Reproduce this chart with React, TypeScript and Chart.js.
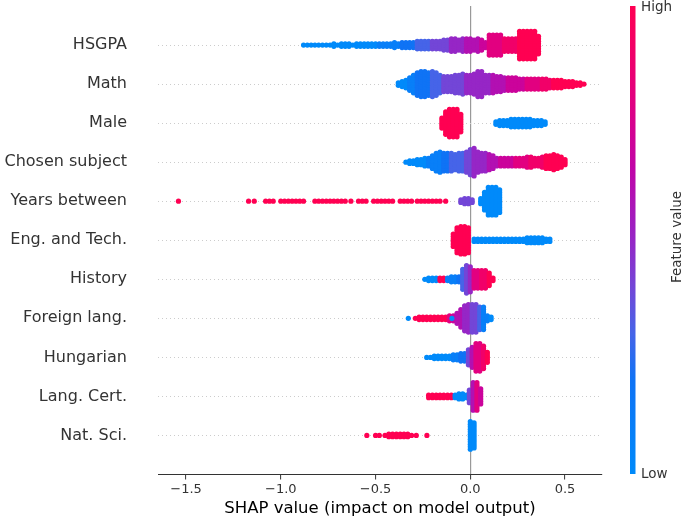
import React, { useEffect, useRef } from 'react';
import { Chart, registerables } from 'chart.js';

Chart.register(...registerables);

// ---------- data ----------
const features = [
  'HSGPA',
  'Math',
  'Male',
  'Chosen subject',
  'Years between',
  'Eng. and Tech.',
  'History',
  'Foreign lang.',
  'Hungarian',
  'Lang. Cert.',
  'Nat. Sci.',
];
const xTicks = [-1.5, -1.0, -0.5, 0.0, 0.5];
const xTitle = 'SHAP value (impact on model output)';
const cbHigh = 'High';
const cbLow = 'Low';
const cbTitle = 'Feature value';

// bin width of the swarm histogram (SHAP units)
const BIN = 0.02;

// segment: [SHAP value of first bin, dots stacked per bin, feature value 0..10 (per bin or single)]
type Seg = [number, number[], number | number[]];

const hsgpa: Seg[] = [
  [-0.88,
    [1, 1, 1, 1, 1, 1, 1, 1, 2, 1, 2, 2, 2, 1, 2, 2, 2, 2, 2, 2, 2, 2, 2, 2, 3, 2, 3, 3, 3, 3, 4, 4, 4, 4, 4, 4, 4, 5, 5, 6, 6, 5, 6, 6, 6, 5, 6, 5, 3, 9, 9, 9, 9, 6, 6, 6, 6, 12, 12, 12, 12, 12, 8],
    [0, 0, 0, 0, 0, 0, 0, 0, 0, 0, 0, 0, 0, 0, 0, 0, 0, 0, 0, 0, 1, 1, 1, 1, 1, 1, 2, 2, 2, 2, 3, 3, 3, 3, 4, 4, 4, 4, 4, 5, 5, 5, 5, 6, 6, 6, 6, 7, 7, 8, 8, 8, 8, 9, 9, 9, 9, 10, 10, 10, 10, 10, 10]],
];
const math: Seg[] = [
  [-0.38,
    [2, 3, 4, 6, 8, 10, 11, 11, 10, 11, 10, 8, 7, 7, 7, 8, 8, 9, 8, 8, 9, 11, 11, 8, 8, 8, 7, 7, 6, 6, 6, 6, 5, 5, 5, 5, 5, 5, 5, 5, 4, 4, 4, 4, 3, 3, 3, 2, 2, 1],
    [0, 0, 0, 1, 1, 2, 2, 2, 2, 3, 3, 3, 4, 4, 4, 4, 4, 4, 5, 5, 5, 5, 5, 5, 5, 6, 6, 6, 6, 7, 7, 7, 7, 7, 8, 8, 8, 8, 9, 9, 9, 10, 10, 10, 10, 10, 10, 10, 10, 10]],
];
const male: Seg[] = [
  [-0.15, [5, 10, 12, 12, 12, 8], 10],
  [0.135, [2, 3, 3, 3, 4, 4, 4, 4, 4, 4, 3, 3, 3, 2], 0],
];
const chosen: Seg[] = [
  [-0.34,
    [1, 2, 2, 3, 3, 4, 4, 6, 8, 9, 8, 8, 8, 7, 8, 8, 9, 11, 12, 9, 8, 8, 7, 6, 4, 4, 4, 4, 4, 4, 4, 4, 5, 5, 4, 4, 5, 6, 6, 7, 6, 5, 3],
    [0, 0, 0, 0, 0, 0, 1, 1, 1, 1, 2, 2, 3, 3, 3, 3, 4, 4, 5, 5, 5, 5, 6, 6, 6, 7, 7, 7, 7, 8, 8, 8, 8, 9, 9, 9, 9, 10, 10, 10, 10, 10, 10]],
];
const yearsBetween: Seg[] = [
  [-1.54, [1], 10],
  [-1.17, [1], 10],
  [-1.14, [1], 10],
  [-1.08, [1, 1, 1], 10],
  [-1.0, [1, 1, 1, 1, 1, 1, 1], 10],
  [-0.82, [1, 1, 1, 1, 1, 1, 1, 1, 1], 10],
  [-0.63, [1], 10],
  [-0.59, [1, 1, 1], 10],
  [-0.51, [1, 1, 1, 1, 1, 1], 10],
  [-0.37, [1, 1, 1, 1], 10],
  [-0.28, [1, 1, 1, 1, 1, 1, 1], 10],
  [-0.13, [1], 10],
  [-0.05, [2, 3, 3, 2], 4],
  [0.055, [3, 8, 12, 12, 12, 10], 0],
];
const engTech: Seg[] = [
  [-0.09, [6, 11, 12, 12, 11], 10],
  [0.02, [2, 2, 2, 2, 2, 2, 2, 2, 2, 2, 2, 2, 2, 2, 3, 3, 3, 3, 3, 2, 2], 0],
];
const history: Seg[] = [
  [-0.24,
    [1, 2, 2, 2, 2, 2, 2, 3, 3, 3, 9, 12, 11, 8, 8, 8, 8, 6, 2],
    [0, 0, 0, 0, 10, 10, 1, 1, 1, 2, 3, 4, 5, 8, 8, 9, 9, 10, 10]],
];
const foreignLang: Seg[] = [
  [-0.327, [1], 0],
  [-0.29, [1, 2, 2, 2, 2, 2, 2, 2, 2], 10],
  [-0.11,
    [3, 3, 5, 8, 11, 12, 12, 12, 10, 10, 3, 2],
    [8, 7, 6, 6, 5, 5, 4, 4, 3, 1, 1, 0]],
  [-0.097, [1], 0],
];
const hungarian: Seg[] = [
  [-0.23,
    [1, 1, 2, 2, 2, 2, 2, 3, 3, 4, 4, 7, 9, 12, 12, 10, 5],
    [0, 0, 0, 0, 0, 0, 0, 1, 1, 2, 2, 4, 6, 8, 8, 9, 10]],
];
const langCert: Seg[] = [
  [-0.22, [2, 2, 2, 2, 2, 2, 2], 10],
  [-0.08, [2, 3, 3, 2], 0],
  [-0.005, [6, 12, 12, 7], [4, 6, 8, 7]],
];
const natSci: Seg[] = [
  [-0.546, [1], 10],
  [-0.5, [1, 1], 10],
  [-0.45, [1, 2, 2, 2, 2, 2, 2, 1], 10],
  [-0.285, [1], 10],
  [-0.229, [1], 10],
  [0.0, [12, 11], 0],
];

const rows: Seg[][] = [hsgpa, math, male, chosen, yearsBetween, engTech, history, foreignLang, hungarian, langCert, natSci];

// shap-like red/blue colormap stops [t, r, g, b]
const CMAP: [number, number, number, number][] = [
  [0, 0, 138, 250],
  [0.2, 15, 115, 245],
  [0.3, 70, 100, 232],
  [0.4, 115, 70, 215],
  [0.5, 150, 38, 198],
  [0.65, 192, 5, 168],
  [0.8, 226, 0, 128],
  [1, 255, 0, 82],
];

function cmap(t: number): string {
  const v = Math.max(0, Math.min(1, t));
  for (let i = 1; i < CMAP.length; i++) {
    const a = CMAP[i - 1];
    const b = CMAP[i];
    if (v <= b[0]) {
      const f = (v - a[0]) / (b[0] - a[0]);
      const r = Math.round(a[1] + (b[1] - a[1]) * f);
      const g = Math.round(a[2] + (b[2] - a[2]) * f);
      const bl = Math.round(a[3] + (b[3] - a[3]) * f);
      return `rgb(${r},${g},${bl})`;
    }
  }
  return 'rgb(255,0,82)';
}

// vertical distance between stacked dots (in row units)
const DOT_STEP = 0.064;
const FONT = "'DejaVu Sans', sans-serif";

const colorbarPlugin = {
  id: 'shapColorbar',
  afterDraw(chart: any) {
    const { ctx, chartArea } = chart;
    const x0 = chartArea.right + 28;
    const w = 5.5;
    const top = chartArea.top;
    const bottom = chartArea.bottom - 0.5;
    const grad = ctx.createLinearGradient(0, bottom, 0, top);
    CMAP.forEach(([t, r, g, b]) => grad.addColorStop(t, `rgb(${r},${g},${b})`));
    ctx.save();
    ctx.fillStyle = grad;
    ctx.fillRect(x0, top, w, bottom - top);
    ctx.fillStyle = '#333';
    ctx.font = `13.5px ${FONT}`;
    ctx.textAlign = 'left';
    ctx.textBaseline = 'middle';
    ctx.fillText(cbHigh, x0 + 11, top + 1);
    ctx.fillText(cbLow, x0 + 11, bottom);
    ctx.translate(x0 + 51, (top + bottom) / 2 - 3);
    ctx.rotate(-Math.PI / 2);
    ctx.textAlign = 'center';
    ctx.textBaseline = 'alphabetic';
    ctx.fillText(cbTitle, 0, 0);
    ctx.restore();
  },
};

export default function App() {
  const ref = useRef<HTMLCanvasElement>(null);

  useEffect(() => {
    document.body.style.margin = '0';
    document.body.style.overflow = 'hidden';
    const n = features.length;
    const datasets: any[] = rows.map((segs, i) => {
      const rowY = n - 1 - i;
      const pts: { x: number; y: number }[] = [];
      const cols: string[] = [];
      segs.forEach(([from, counts, c]) => {
        counts.forEach((cnt, j) => {
          const x = +(from + j * BIN).toFixed(4);
          const cv = Array.isArray(c) ? c[j] : c;
          for (let k = 0; k < cnt; k++) {
            pts.push({ x, y: rowY + (k - (cnt - 1) / 2) * DOT_STEP });
            cols.push(cmap(cv / 10));
          }
        });
      });
      return {
        type: 'scatter',
        label: features[i],
        data: pts,
        backgroundColor: cols,
        pointRadius: 2.6,
        pointHoverRadius: 2.6,
        borderWidth: 0,
      };
    });

    const chart = new Chart(ref.current as HTMLCanvasElement, {
      type: 'scatter',
      data: { datasets },
      options: {
        animation: false,
        responsive: false,
        devicePixelRatio: 1,
        events: [],
        layout: { padding: { left: 0, right: 83, top: 6, bottom: 0 } },
        plugins: { legend: { display: false }, tooltip: { enabled: false } },
        scales: {
          x: {
            type: 'linear',
            min: -1.648,
            max: 0.695,
            afterBuildTicks: (scale: any) => {
              scale.ticks = xTicks.map((v) => ({ value: v }));
            },
            afterFit: (scale: any) => {
              scale.height = 45.5;
              scale.paddingLeft = 0;
              scale.paddingRight = 0;
            },
            grid: {
              color: (ctx: any) => (ctx.tick && ctx.tick.value === 0 ? '#999999' : 'rgba(0,0,0,0)'),
              lineWidth: 1.2,
              tickColor: '#333333',
              tickLength: 5,
              tickWidth: 1,
              drawTicks: true,
            },
            border: { display: true, color: '#333333', width: 1 },
            ticks: {
              callback: (v: any) => Number(v).toFixed(1).replace('-', '\u2212'),
              font: { family: FONT, size: 13 },
              color: '#333333',
              padding: 2,
              maxRotation: 0,
              autoSkip: false,
            },
            title: {
              display: true,
              text: xTitle,
              font: { family: FONT, size: 16.5 },
              color: '#000000',
              padding: { top: 0, bottom: 1 },
            },
          },
          y: {
            type: 'linear',
            min: -1,
            max: n,
            afterBuildTicks: (scale: any) => {
              scale.ticks = features.map((_, i) => ({ value: i }));
            },
            afterFit: (scale: any) => {
              scale.width = 158;
              scale.paddingTop = 0;
              scale.paddingBottom = 0;
            },
            grid: {
              color: '#cccccc',
              lineWidth: 1,
              drawTicks: false,
            },
            border: { display: false, dash: [1, 3] },
            ticks: {
              callback: (v: any) => features[n - 1 - Number(v)],
              font: { family: FONT, size: 16 },
              color: '#333333',
              padding: 31,
              autoSkip: false,
            },
          },
        },
      },
      plugins: [colorbarPlugin],
    } as any);

    return () => chart.destroy();
  }, []);

  return (
    <div style={{ width: 685, height: 520 }}>
      <canvas ref={ref} width={685} height={520} style={{ display: 'block' }} />
    </div>
  );
}
